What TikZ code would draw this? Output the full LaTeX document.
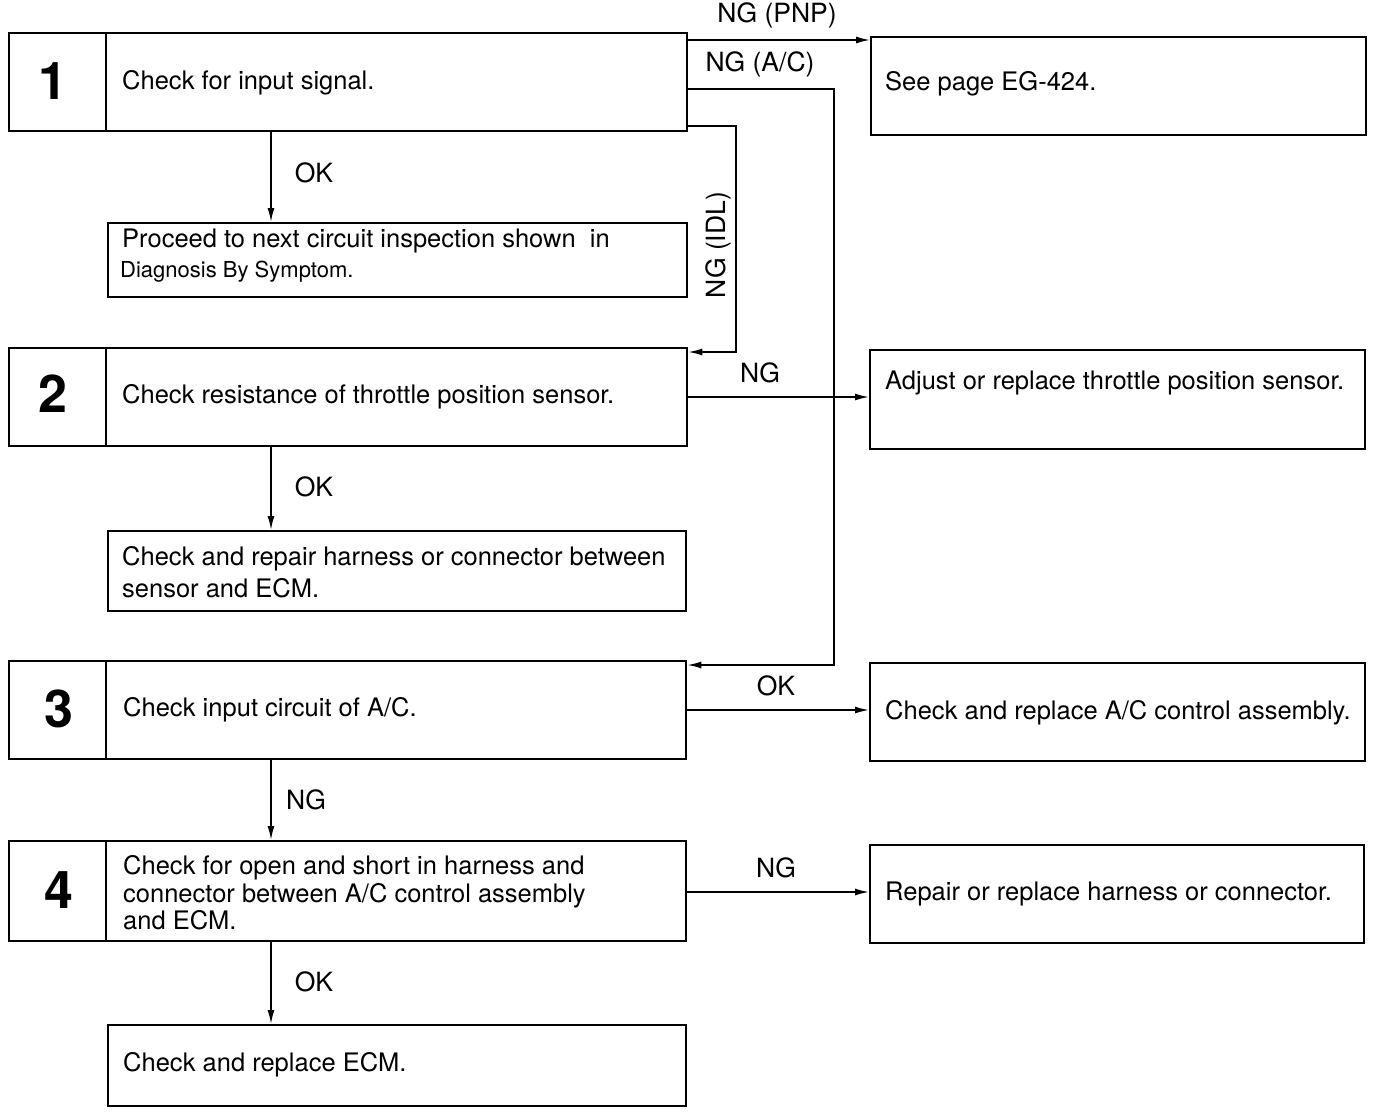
\documentclass[tikz,border=0pt]{standalone}
\usepackage{fontspec}
\setmainfont{TeX Gyre Heros}
\usetikzlibrary{arrows.meta}
\begin{document}
\begin{tikzpicture}[x=1pt,y=-1pt,
 box/.style={draw, line width=2.3pt, rectangle, anchor=north west, inner sep=0pt},
 conn/.style={line width=1.6pt, -{Latex[length=14pt,width=7pt]}},
 divider/.style={line width=1.2pt},
 txt/.style={anchor=west, inner sep=0pt, font=\fontsize{25.5}{30}\selectfont, align=left},
 smalltxt/.style={anchor=west, inner sep=0pt, font=\fontsize{22}{26}\selectfont},
 num/.style={font=\fontsize{52}{52}\bfseries\selectfont, inner sep=0pt},
 lbl/.style={font=\fontsize{26.5}{30}\selectfont, inner sep=0pt}]
\useasboundingbox (0,0) rectangle (1376,1114);
% boxes
\node[box, minimum width=678pt, minimum height=98pt] (b1) at (8,32) {};
\node[box, minimum width=495pt, minimum height=98pt] (pg) at (870,36) {};
\node[box, minimum width=579pt, minimum height=74pt] (pr) at (107,222) {};
\node[box, minimum width=678pt, minimum height=98pt] (b2) at (8,347) {};
\node[box, minimum width=495pt, minimum height=99pt] (ad) at (869,349) {};
\node[box, minimum width=578pt, minimum height=80pt] (rp) at (107,530) {};
\node[box, minimum width=677pt, minimum height=98pt] (b3) at (8,660) {};
\node[box, minimum width=495pt, minimum height=98pt] (ac) at (869,662) {};
\node[box, minimum width=677pt, minimum height=100pt] (b4) at (8,840) {};
\node[box, minimum width=494pt, minimum height=98pt] (rh) at (869,844) {};
\node[box, minimum width=578pt, minimum height=81pt] (ecm) at (107,1024) {};
% dividers
\foreach \b in {b1,b2,b3,b4}{
  \draw[divider] ([xshift=98pt]\b.north west) -- ([xshift=98pt]\b.south west);
}
% numbers
\node[num] (n1) at (53,81) {1};
\node[num] (n2) at (53,394) {2};
\node[num] (n3) at (59,709) {3};
\node[num] (n4) at (59,890) {4};
% texts
\node[txt] (t1) at (122,83) {Check for input signal.};
\node[txt] (tpg) at (885,84) {See page EG-424.};
\node[txt] (tpr) at (122,241) {Proceed to next circuit inspection shown\ \ in};
\node[smalltxt] (tpr2) at (120,272) {Diagnosis By Symptom.};
\node[txt] (t2) at (122,397) {Check resistance of throttle position sensor.};
\node[txt] (tad) at (885,383) {Adjust or replace throttle position sensor.};
\node[txt, font=\fontsize{25.5}{32}\selectfont] (trp) at (122,572) {Check and repair harness or connector between\\sensor and ECM.};
\node[txt] (t3) at (123,710) {Check input circuit of A/C.};
\node[txt] (tac) at (885,713) {Check and replace A/C control assembly.};
\node[txt, font=\fontsize{25.5}{27.5}\selectfont] (t4) at (123,893) {Check for open and short in harness and\\connector between A/C control assembly\\and ECM.};
\node[txt] (trh) at (885,894) {Repair or replace harness or connector.};
\node[txt] (tecm) at (123,1065) {Check and replace ECM.};
% helper coordinates
\coordinate (y40) at (0,40);
\coordinate (y89) at (0,89);
\coordinate (y126) at (0,126);
\coordinate (y352) at (0,352);
\coordinate (y397) at (0,397);
\coordinate (y665) at (0,665);
\coordinate (y710) at (0,710);
\coordinate (y892) at (0,892);
\coordinate (x271) at (271,0);
\coordinate (x736) at (736,0);
\coordinate (x834) at (834,0);
% connectors
\draw[conn] (b1.east |- y40) -- (pg.west |- y40);
\draw[conn] (b1.east |- y89) -| (x834 |- y665) -- (b3.east |- y665);
\draw[conn] (b1.east |- y126) -| (x736 |- y352) -- (b2.east |- y352);
\draw[conn] (b1.south -| x271) -- (pr.north -| x271);
\draw[conn] (b2.east |- y397) -- (ad.west |- y397);
\draw[conn] (b2.south -| x271) -- (rp.north -| x271);
\draw[conn] (b3.east |- y710) -- (ac.west |- y710);
\draw[conn] (b3.south -| x271) -- (b4.north -| x271);
\draw[conn] (b4.east |- y892) -- (rh.west |- y892);
\draw[conn] (b4.south -| x271) -- (ecm.north -| x271);
% labels
\node[lbl] (l1) at (777,15) {NG (PNP)};
\node[lbl] (l2) at (760,64) {NG (A/C)};
\node[lbl, rotate=90] (l3) at (718,245) {NG (IDL)};
\node[lbl] (l4) at (314,173) {OK};
\node[lbl] (l5) at (760,373) {NG};
\node[lbl] (l6) at (314,487) {OK};
\node[lbl] (l7) at (776,686) {OK};
\node[lbl] (l8) at (306,800) {NG};
\node[lbl] (l9) at (776,868) {NG};
\node[lbl] (l10) at (314,982) {OK};
\end{tikzpicture}
\end{document}
